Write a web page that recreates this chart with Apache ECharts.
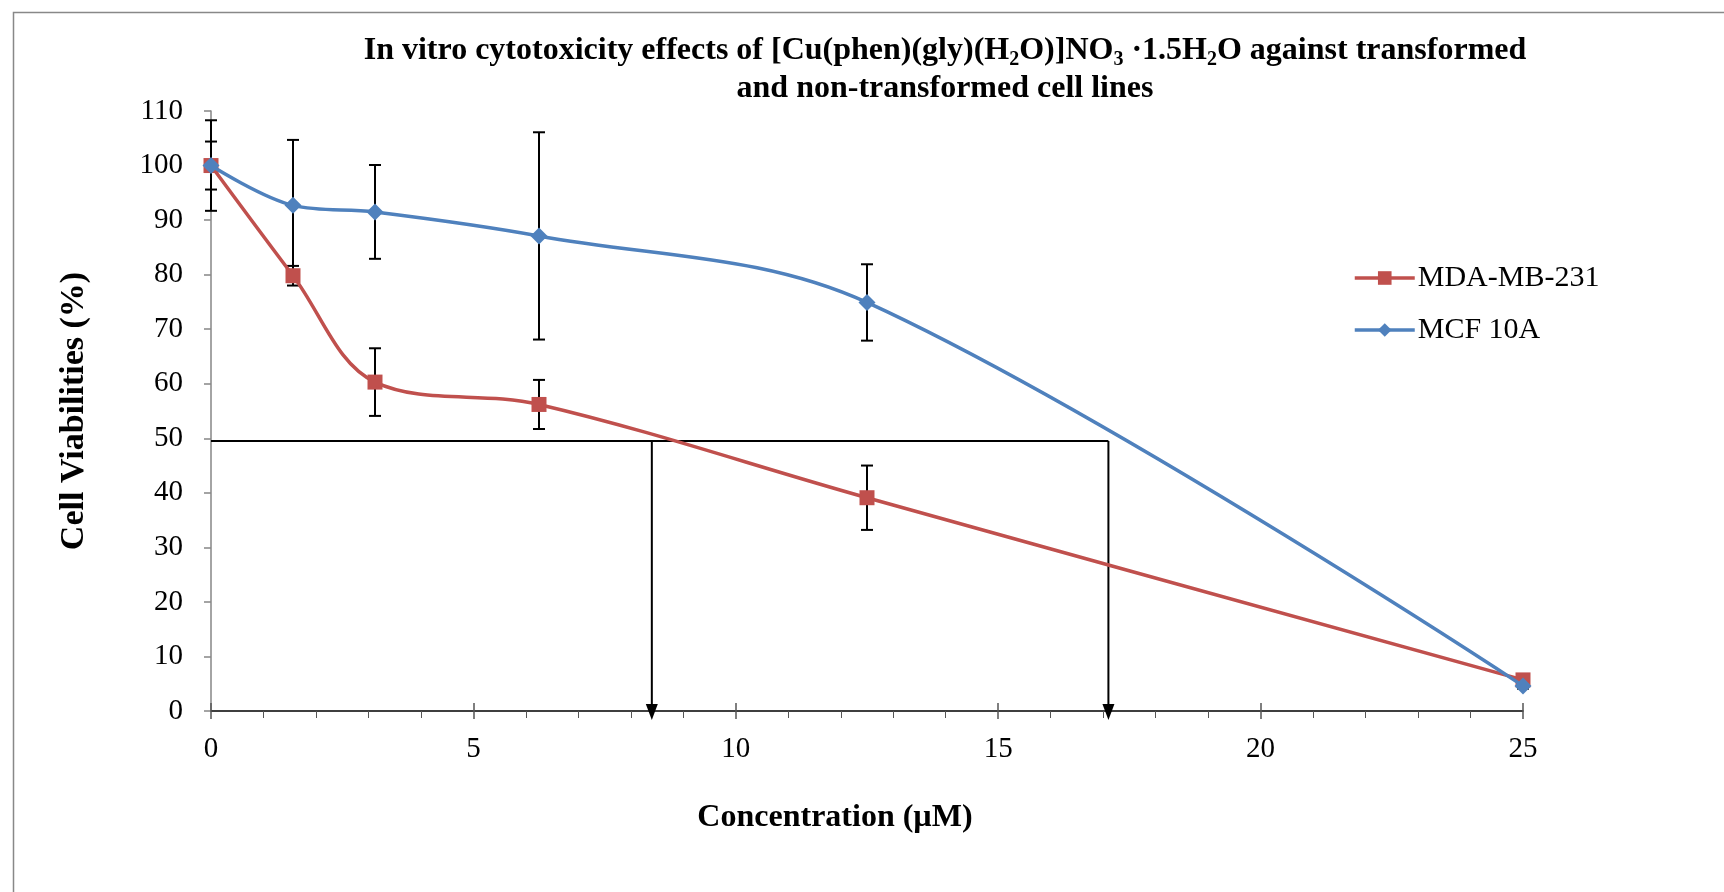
<!DOCTYPE html>
<html>
<head>
<meta charset="utf-8">
<script src="https://cdn.jsdelivr.net/npm/echarts@6/dist/echarts.min.js"></script>
<style>
html,body{margin:0;padding:0;background:#fff;}
#chart{width:1724px;height:892px;}
</style>
</head>
<body>
<div id="chart"></div>
<script>
// ---- data ----
const concentrations = [0, 1.5625, 3.125, 6.25, 12.5, 25];
const mdaValues = [100, 79.8, 60.3, 56.2, 39.1, 5.7];
const mdaErr = [4.4, 1.8, 6.2, 4.5, 5.9, 0.5];
const mcfValues = [100, 92.7, 91.5, 87.1, 74.9, 4.6];
const mcfErr = [8.3, 12.0, 8.6, 19.0, 7.0, 0.5];
const seriesNames = ['MDA-MB-231', 'MCF 10A'];
const halfViability = 49.5;
const ic50Values = [8.4, 17.1];
const yTicks = [0, 110, 10];
const xTicks = [0, 25, 5];

const FONT = 'Liberation Serif';
const RED = '#C0504D';
const BLUE = '#4F81BD';

function pairs(xs, ys) { return xs.map((x, i) => [x, ys[i]]); }
function errData(xs, ys, es) { return xs.map((x, i) => [x, ys[i] - es[i], ys[i] + es[i]]); }

const refSegments = [[0, halfViability, Math.max.apply(null, ic50Values), halfViability, 0]]
  .concat(ic50Values.map(v => [v, halfViability, v, 0, 1]));

function renderErr(params, api) {
  const x = api.value(0);
  const lo = api.coord([x, api.value(1)]);
  const hi = api.coord([x, api.value(2)]);
  const cw = 6;
  const st = { stroke: '#000', lineWidth: 2 };
  return { type: 'group', children: [
    { type: 'line', shape: { x1: lo[0], y1: lo[1], x2: hi[0], y2: hi[1] }, style: st },
    { type: 'line', shape: { x1: lo[0] - cw, y1: lo[1], x2: lo[0] + cw, y2: lo[1] }, style: st },
    { type: 'line', shape: { x1: hi[0] - cw, y1: hi[1], x2: hi[0] + cw, y2: hi[1] }, style: st }
  ]};
}

function renderRef(params, api) {
  const s = api.coord([api.value(0), api.value(1)]);
  const e = api.coord([api.value(2), api.value(3)]);
  const arrow = api.value(4);
  const st = { stroke: '#000', lineWidth: 2 };
  if (!arrow) {
    return { type: 'line', shape: { x1: s[0], y1: s[1], x2: e[0], y2: e[1] }, style: st };
  }
  return { type: 'group', children: [
    { type: 'line', shape: { x1: s[0], y1: s[1], x2: e[0], y2: e[1] - 6 }, style: st },
    { type: 'polygon', shape: { points: [[e[0] - 6, e[1] - 7], [e[0] + 6, e[1] - 7], [e[0], e[1] + 9]] }, style: { fill: '#000' } }
  ]};
}

const chart = echarts.init(document.getElementById('chart'), null, { renderer: 'canvas' });
const sub = { fontFamily: FONT, fontWeight: 'bold', fontSize: 20, lineHeight: 21, verticalAlign: 'bottom', color: '#000' };
const option = {
  backgroundColor: '#fff',
  animation: false,
  title: {
    text: '{t|In vitro cytotoxicity effects of [Cu(phen)(gly)(H}{s|2}{t|O)]NO}{s|3}{t| ·1.5H}{s|2}{t|O against transformed}\n{t|and non-transformed cell lines}',
    left: 940, top: 27, textAlign: 'center',
    textStyle: {
      fontFamily: FONT, fontWeight: 'bold', fontSize: 32, color: '#000', lineHeight: 38,
      rich: {
        t: { fontFamily: FONT, fontWeight: 'bold', fontSize: 32, lineHeight: 38, color: '#000' },
        s: sub
      }
    }
  },
  graphic: [{
    type: 'rect', left: 11, top: 10, shape: { width: 1800, height: 1000 },
    style: { fill: 'none', stroke: '#888', lineWidth: 1.5 }, silent: true, z: -1
  }],
  legend: {
    left: 1348, top: 258, orient: 'vertical', itemWidth: 60, itemHeight: 17, itemGap: 22,
    data: seriesNames,
    lineStyle: { width: 3.5 },
    textStyle: { fontFamily: FONT, fontSize: 30, color: '#000', padding: [0, 0, 0, -2] }
  },
  grid: { left: 211, right: 201, top: 111, bottom: 181 },
  xAxis: [{
    type: 'value', min: xTicks[0], max: xTicks[1], interval: xTicks[2],
    name: 'Concentration (µM)', nameLocation: 'middle', nameGap: 91,
    nameTextStyle: { fontFamily: FONT, fontWeight: 'bold', fontSize: 32, color: '#000', padding: [0, 64, 0, 0] },
    axisLine: { show: true, lineStyle: { color: '#000', width: 1.5 } },
    axisTick: { show: true, length: 8, lineStyle: { color: '#555', width: 1.5 } },
    minorTick: { show: true, splitNumber: 5, length: 7, lineStyle: { color: '#555', width: 1 } },
    axisLabel: { fontFamily: FONT, fontSize: 29, color: '#000', margin: 24 },
    splitLine: { show: false }
  }, {
    type: 'value', min: xTicks[0], max: xTicks[1], interval: xTicks[2], position: 'bottom',
    axisLine: { show: false }, axisLabel: { show: false }, splitLine: { show: false },
    axisTick: { show: true, inside: true, length: 8, lineStyle: { color: '#555', width: 1.5 } }
  }],
  yAxis: {
    type: 'value', min: yTicks[0], max: yTicks[1], interval: yTicks[2],
    name: 'Cell Viabilities (%)', nameLocation: 'middle', nameGap: 120, nameRotate: 90,
    nameTextStyle: { fontFamily: FONT, fontWeight: 'bold', fontSize: 34, color: '#000' },
    axisLine: { show: true, lineStyle: { color: '#868686', width: 1.5 } },
    axisTick: { show: true, length: 7, lineStyle: { color: '#868686', width: 1.5 } },
    axisLabel: { fontFamily: FONT, fontSize: 29, color: '#000', margin: 28 },
    splitLine: { show: false }
  },
  series: [
    { name: 'errMDA', type: 'custom', renderItem: renderErr, data: errData(concentrations, mdaValues, mdaErr), encode: { x: 0, y: [1, 2] }, z: 1, clip: false, silent: true },
    { name: 'errMCF', type: 'custom', renderItem: renderErr, data: errData(concentrations, mcfValues, mcfErr), encode: { x: 0, y: [1, 2] }, z: 1, clip: false, silent: true },
    { name: 'ref', type: 'custom', renderItem: renderRef, data: refSegments, encode: { x: [0, 2], y: [1, 3] }, z: 1, clip: false, silent: true },
    { name: seriesNames[0], type: 'line', data: pairs(concentrations, mdaValues), smooth: 0.35,
      symbol: 'rect', symbolSize: 15, itemStyle: { color: RED }, lineStyle: { color: RED, width: 3.5 }, z: 3 },
    { name: seriesNames[1], type: 'line', data: pairs(concentrations, mcfValues), smooth: 0.35,
      symbol: 'diamond', symbolSize: 17, itemStyle: { color: BLUE }, lineStyle: { color: BLUE, width: 3.5 }, z: 4 }
  ]
};
chart.setOption(option);
</script>
</body>
</html>
